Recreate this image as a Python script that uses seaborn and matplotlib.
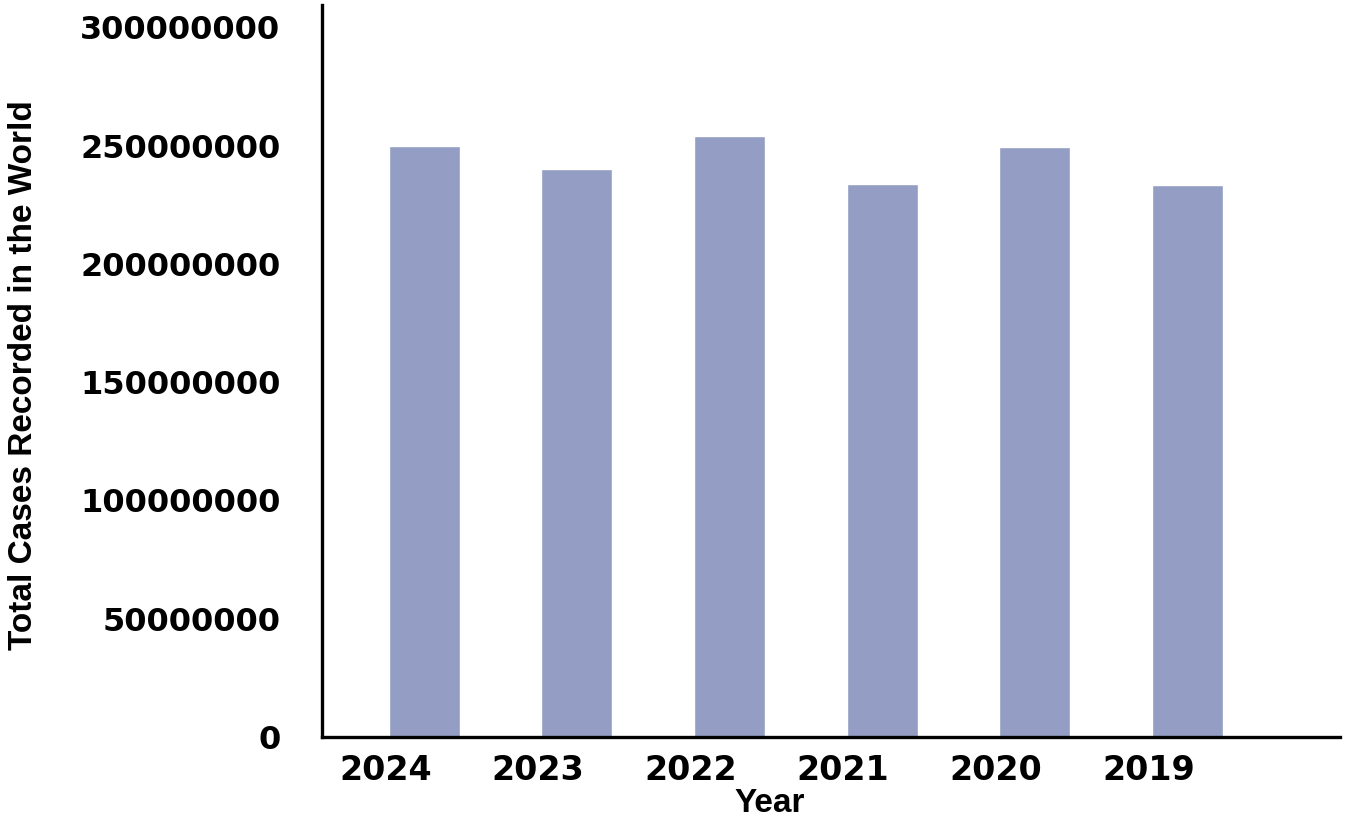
import matplotlib
matplotlib.use("Agg")
import matplotlib.pyplot as plt
import matplotlib.transforms as mtransforms
import pandas as pd
import seaborn as sns

years = ["2024", "2023", "2022", "2021", "2020", "2019"]
total_cases = [250000000, 240000000, 254000000, 234000000, 249500000, 233500000]
y_ticks = [0, 50000000, 100000000, 150000000, 200000000, 250000000, 300000000]

df = pd.DataFrame({"Year": years, "Cases": total_cases})

sns.set_style("white")
plt.rcParams["font.family"] = ["DejaVu Sans"]
plt.rcParams["text.color"] = "black"
plt.rcParams["xtick.color"] = "black"
plt.rcParams["ytick.color"] = "black"
plt.rcParams["axes.labelcolor"] = "black"

fig = plt.figure(figsize=(13.5, 8.18), dpi=100)
ax = fig.add_axes([0.2385, 0.099, 0.754, 0.895])

sns.barplot(data=df, x="Year", y="Cases", color="#949dc4", width=0.465,
            saturation=1, ax=ax)

ax.set_xlim(-0.671, 6.0)
ax.set_ylim(0, 309500000)
ax.set_yticks(y_ticks)
ax.set_yticklabels([str(t) for t in y_ticks])

for side in ["top", "right"]:
    ax.spines[side].set_visible(False)
for side in ["left", "bottom"]:
    ax.spines[side].set_color("black")
    ax.spines[side].set_linewidth(2.4)

ax.tick_params(axis="both", length=0)
ax.tick_params(axis="y", pad=30, labelsize=23)
ax.tick_params(axis="x", pad=12, labelsize=24)
for lbl in ax.get_yticklabels() + ax.get_xticklabels():
    lbl.set_fontweight("bold")

# year labels sit a bit left of the bars in the original
shift = mtransforms.ScaledTranslation(-0.39, 0, fig.dpi_scale_trans)
for lbl in ax.get_xticklabels():
    lbl.set_transform(lbl.get_transform() + shift)

ax.set_xlabel("Year", fontsize=24, fontweight="bold", family=["Liberation Sans"])
ax.xaxis.set_label_coords(0.44, -0.069)
ax.set_ylabel("Total Cases Recorded in the World", fontsize=24, fontweight="bold",
              family=["Liberation Sans"])
ax.yaxis.set_label_coords(-0.278, 0.494)

fig.savefig("out.png", dpi=100)
